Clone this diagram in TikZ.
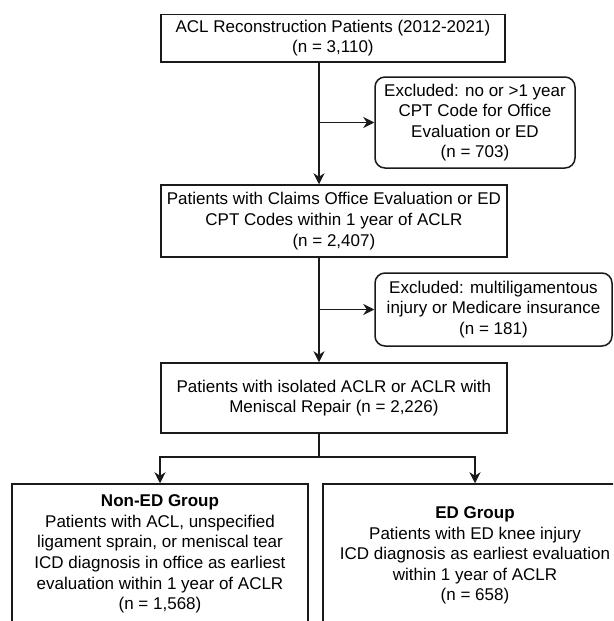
\documentclass[tikz,border=0pt]{standalone}
\usepackage{fontspec}
\setmainfont{Liberation Sans}
\usetikzlibrary{arrows.meta}
\definecolor{linec}{HTML}{1A1A1A}
\tikzset{
  boxbase/.style={draw=linec, line width=1.5pt, align=center, inner sep=0pt,
    font=\fontsize{17}{20.6}\selectfont, text=black},
  sqbox/.style={boxbase},
  rndbox/.style={boxbase, rounded corners=10pt},
  arr/.style={draw=linec, line width=1.5pt, -{Stealth[length=11pt,width=11pt,inset=3.5pt]}},
  ln/.style={draw=linec, line width=1.5pt}
}
\begin{document}
\begin{tikzpicture}[x=1pt,y=-1pt]
\clip (0,0) rectangle (613,621);
\fill[white] (0,0) rectangle (613,621);
\node[sqbox, minimum width=344.3pt, minimum height=47.7pt] (b1) at (332.9,38.2)
  {ACL Reconstruction Patients (2012-2021)\\(n = 3,110)};
\node[rndbox, minimum width=200pt, minimum height=91pt] (e1) at (475,122.5)
  {Excluded: no or >1 year\\CPT Code for Office\\Evaluation or ED\\(n = 703)};
\node[sqbox, minimum width=346.3pt, minimum height=72pt] (b2) at (333.9,221)
  {Patients with Claims Office Evaluation or ED\\CPT Codes within 1 year of ACLR\\(n = 2,407)};
\node[rndbox, minimum width=237pt, minimum height=73pt] (e2) at (493.5,309.5)
  {Excluded: multiligamentous\\injury or Medicare insurance\\(n = 181)};
\node[sqbox, minimum width=346.3pt, minimum height=70pt] (b3) at (333.9,398)
  {Patients with isolated ACLR or ACLR with\\Meniscal Repair (n = 2,226)};
\node[sqbox, minimum width=296pt, minimum height=140pt] (g1) at (160,554)
  {\textbf{Non-ED Group}\\Patients with ACL, unspecified\\ligament sprain, or meniscal tear\\ICD diagnosis in office as earliest\\evaluation within 1 year of ACLR\\(n = 1,568)};
\node[sqbox, minimum width=304pt, minimum height=143pt] (g2) at (475,555.5)
  {\textbf{ED Group}\\Patients with ED knee injury\\ICD diagnosis as earliest evaluation\\within 1 year of ACLR\\(n = 658)};
\coordinate (trunk) at (319,0);
\coordinate (split) at (319,457);
\draw[arr] (b1.south -| trunk) -- (b2.north -| trunk);
\draw[arr] (trunk |- e1.west) -- (e1.west);
\draw[arr] (b2.south -| trunk) -- (b3.north -| trunk);
\draw[arr] (trunk |- e2.west) -- (e2.west);
\draw[ln] (b3.south -| split) -- (split);
\draw[arr] (split) -| (g1.north);
\draw[arr] (split) -| (g2.north);
\end{tikzpicture}
\end{document}
